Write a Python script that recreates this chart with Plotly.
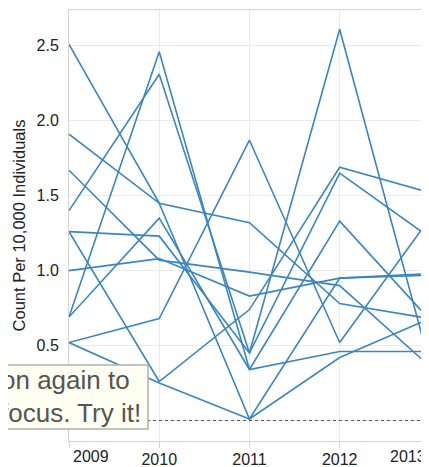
import plotly.graph_objects as go

years = [2009, 2010, 2011, 2012, 2013]
tick_labels = ["2009", "2010", "2011", "2012", "2013"]

s01 = [2.51, 1.45, 1.32, 0.78, 0.68]
s02 = [1.91, 1.45, 0.01, 0.42, 0.68]
s03 = [1.67, 1.07, 0.99, 0.90, 0.36]
s04 = [1.00, 1.08, 0.83, 0.95, 0.97]
s05 = [1.40, 2.31, 0.45, 2.61, 0.37]
s06 = [0.69, 2.46, 0.34, 1.33, 0.67]
s07 = [0.69, 1.35, 0.34, 0.46, 0.46]
s08 = [1.26, 1.23, 0.45, 1.65, 1.22]
s09 = [1.26, 0.26, 0.74, 1.69, 1.52]
s10 = [0.52, 0.68, 1.87, 0.52, 1.35]
s11 = [0.52, 0.25, 0.01, 0.95, 0.98]

series = [s01, s02, s03, s04, s05, s06, s07, s08, s09, s10, s11]

y_ticks = [0.0, 0.5, 1.0, 1.5, 2.0, 2.5]
y_tick_text = ["0.0", "0.5", "1.0", "1.5", "2.0", "2.5"]
note_lines = ["on again to", "focus. Try it!"]

LINE = "#3b86c1"
FONT = "Liberation Sans, Arial, sans-serif"

fig = go.Figure()
for s in series:
    fig.add_trace(go.Scatter(x=years, y=s, mode="lines",
                             line=dict(color=LINE, width=1.6),
                             hoverinfo="skip", showlegend=False))

# the page body adds an 8px offset, so the figure is 8px smaller and shifted
fig.update_layout(
    width=421, height=459,
    margin=dict(l=61, r=0, t=2, b=26, autoexpand=False),
    paper_bgcolor="white", plot_bgcolor="white",
    font=dict(family=FONT, color="#333"),
    xaxis=dict(range=[2009, 2012.99], tickvals=years,
               ticktext=["", tick_labels[1], tick_labels[2], tick_labels[3], ""],
               showgrid=True, gridcolor="#eaeaea", gridwidth=1,
               showline=True, linecolor="#d4d4d4", linewidth=1, mirror=True,
               ticks="outside", ticklen=6, tickcolor="#d4d4d4",
               tickfont=dict(size=16, color="#222", family=FONT),
               ticklabelstandoff=-2, zeroline=False, fixedrange=True,
               automargin=False),
    yaxis=dict(range=[-0.137, 2.739], tickvals=y_ticks, ticktext=y_tick_text,
               showgrid=True, gridcolor="#eaeaea", gridwidth=1,
               showline=True, linecolor="#d4d4d4", linewidth=1,
               ticks="", tickfont=dict(size=16, color="#222", family=FONT),
               ticklabelstandoff=6, zeroline=False, fixedrange=True,
               automargin=False,
               title=dict(text="Count Per 10,000 Individuals",
                          font=dict(size=16.5, color="#222", family=FONT),
                          standoff=6)),
)

# dotted zero reference line
fig.add_shape(type="line", xref="paper", yref="y", x0=0, x1=1, y0=0, y1=0,
              line=dict(color="#555", width=1, dash="dot"), layer="above")

# end tick labels shifted inward
fig.add_annotation(x=years[0], y=0, xref="x", yref="paper", yanchor="top",
                   xanchor="left", xshift=2, yshift=-5, showarrow=False,
                   text=tick_labels[0], font=dict(size=16, color="#222", family=FONT))
fig.add_annotation(x=1, y=0, xref="paper", yref="paper", yanchor="top",
                   xanchor="right", xshift=-1, yshift=-5, showarrow=False,
                   text=tick_labels[4], font=dict(size=16, color="#222", family=FONT))

# tooltip-like hint box (cropped at the left edge)
fig.add_shape(type="rect", xref="paper", yref="paper",
              x0=-0.2056, x1=0.2194, y0=0.0278, y1=0.1763,
              fillcolor="#fffff2", line=dict(color="#b0b0b0", width=1.5),
              layer="above")
fig.add_annotation(x=0.2194, y=0.1404, xref="paper", yref="paper",
                   xanchor="right", yanchor="middle", xshift=-16,
                   showarrow=False, text=note_lines[0],
                   font=dict(size=26, color="#555", family=FONT))
fig.add_annotation(x=0.2194, y=0.0661, xref="paper", yref="paper",
                   xanchor="right", yanchor="middle", xshift=-5,
                   showarrow=False, text=note_lines[1],
                   font=dict(size=26, color="#555", family=FONT))

fig.write_html("out.html")
